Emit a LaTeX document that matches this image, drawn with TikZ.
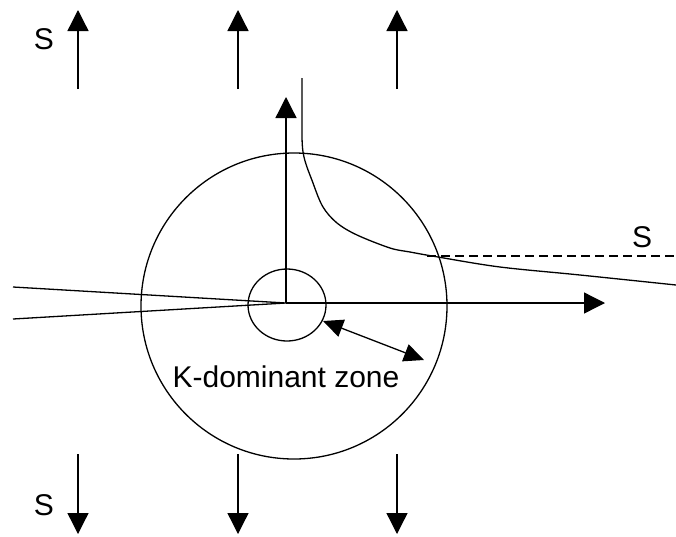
\documentclass[tikz,border=0pt]{standalone}
\usepackage{fontspec}
\setmainfont{Liberation Sans}
\usetikzlibrary{arrows.meta,shapes.geometric}
\begin{document}
\begin{tikzpicture}[x=1pt,y=-1pt,
  ln/.style={line width=1.3pt},
  bigarrow/.style={ln,-{Triangle[width=21pt,length=21pt]}},
  dblarrow/.style={ln,{Triangle[width=18pt,length=20pt]}-{Triangle[width=18pt,length=20pt]}},
  lbl/.style={inner sep=0pt,font=\fontsize{30}{34}\selectfont}]
\useasboundingbox (0,0) rectangle (676,536);
% coordinates
\coordinate (tip) at (286,303);
\coordinate (cc) at (294,306);
\coordinate (sc) at (287,305);
\coordinate (c1) at (13,287);
\coordinate (c2) at (13,319);
\coordinate (hx) at (605,303);
\coordinate (vy) at (286,97);
% vertical load arrows
\foreach \i/\x in {1/78,2/238,3/397}{
  \coordinate (ta\i) at (\x,89);
  \coordinate (tb\i) at (\x,10);
  \draw[bigarrow] (ta\i) -- (tb\i);
  \coordinate (ba\i) at (\x,454);
  \coordinate (bb\i) at (\x,534);
  \draw[bigarrow] (ba\i) -- (bb\i);
}
\node[lbl] (s1) at (44,39) {S};
\node[lbl] (s2) at (44,505) {S};
\node[lbl] (s3) at (642,237) {S};
% circles
\node[ln,draw,circle,minimum size=306pt,inner sep=0pt] (big) at (cc) {};
\node[ln,draw,ellipse,minimum width=78pt,minimum height=72pt,inner sep=0pt] (small) at (sc) {};
% crack
\draw[ln] (c1) -- (tip) -- (c2);
% axes
\draw[bigarrow] (tip) -- (hx);
\draw[bigarrow] (tip) -- (vy);
% dashed
\coordinate (d1) at (427,256);
\coordinate (d2) at (676,256);
\draw[ln,dash pattern=on 9pt off 5pt] (d1) -- (d2);
% curve
\draw[ln] plot[smooth,tension=0.55] coordinates {(302,78) (302,110) (303,152) (313,183) (323,207) (337,223) (357,235) (390,248) (410,252) (438,257) (500,267) (580,275) (676,285)};
% double arrow
\coordinate (e1) at (323,321);
\coordinate (e2) at (424,360);
\draw[dblarrow] (e1) -- (e2);
% label
\node[inner sep=0pt,anchor=base,font=\fontsize{30}{34}\selectfont] (lab) at (286,387) {K-dominant zone};
\end{tikzpicture}
\end{document}
